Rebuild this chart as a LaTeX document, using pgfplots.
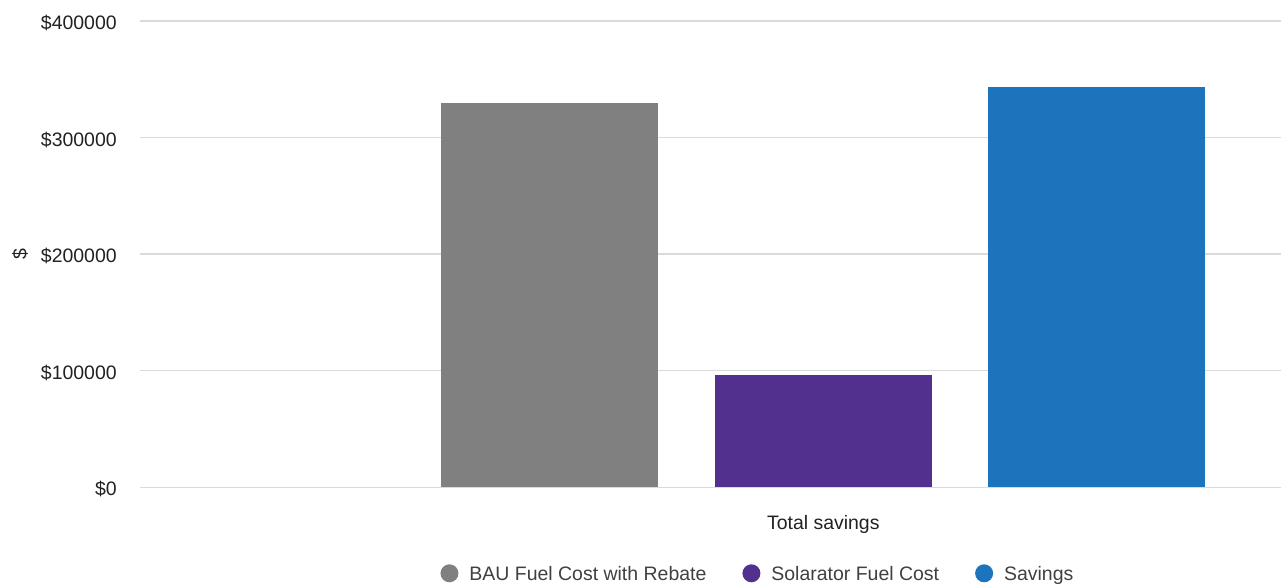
\documentclass[border=0pt]{standalone}
\usepackage{pgfplots}
\pgfplotsset{compat=1.18}
\usepackage{fontspec}
\setmainfont{Liberation Sans}
\definecolor{bau}{HTML}{808080}
\definecolor{sol}{HTML}{52308E}
\definecolor{sav}{HTML}{1C75BC}
\definecolor{gridc}{HTML}{DADADA}
\pgfplotsset{circle legend/.style={legend image code/.code={\fill[##1] (6.75pt,0pt) circle (6.75pt);}}}
\begin{document}
\begin{tikzpicture}[font=\fontsize{14.6}{17}\selectfont]
\useasboundingbox (0pt,0pt) rectangle (960.75pt,-437.25pt);
\begin{axis}[
 at={(105pt,-15.525pt)}, anchor=north west,
 scale only axis, width=855.75pt, height=349.95pt,
 xmin=-2.5, xmax=1.6747, ymin=0, ymax=400000,
 scaled y ticks=false,
 axis line style={draw=none},
 major tick length=0pt,
 ymajorgrids, grid style={gridc, line width=1.2pt},
 ytick={0,100000,200000,300000,400000},
 yticklabels={\$0,\$100000,\$200000,\$300000,\$400000},
 xtick={0}, xticklabels={Total savings},
 yticklabel style={anchor=base east, inner sep=0pt, xshift=-17.25pt, yshift=-6.5pt, text=black!87},
 xticklabel style={anchor=north, inner sep=0pt, yshift=-20.8pt, text=black!87},
 ylabel={\$}, ylabel style={at={(axis description cs:-0.1052,0.5)}, anchor=center, inner sep=0pt, text=black!87},
 legend columns=3,
 legend cell align=left,
 legend style={at={(0.5407,-0.1843)}, anchor=center, draw=none, inner sep=0pt, outer sep=0pt,
   nodes={inner sep=0pt, text height=10.45pt, text depth=0pt, text=black!75},
   /tikz/every odd column/.style={column sep=8.25pt},
   /tikz/every even column/.style={column sep=27pt}},
]
\addplot[ybar, bar width=0.794, bar shift=0pt, fill=bau, draw=none, circle legend] coordinates {(-1,329700)};
\addlegendentry{BAU Fuel Cost with Rebate}
\addplot[ybar, bar width=0.794, bar shift=0pt, fill=sol, draw=none, circle legend] coordinates {(0,96300)};
\addlegendentry{Solarator Fuel Cost}
\addplot[ybar, bar width=0.794, bar shift=0pt, fill=sav, draw=none, circle legend] coordinates {(1,342900)};
\addlegendentry{Savings}
\end{axis}
\end{tikzpicture}
\end{document}
